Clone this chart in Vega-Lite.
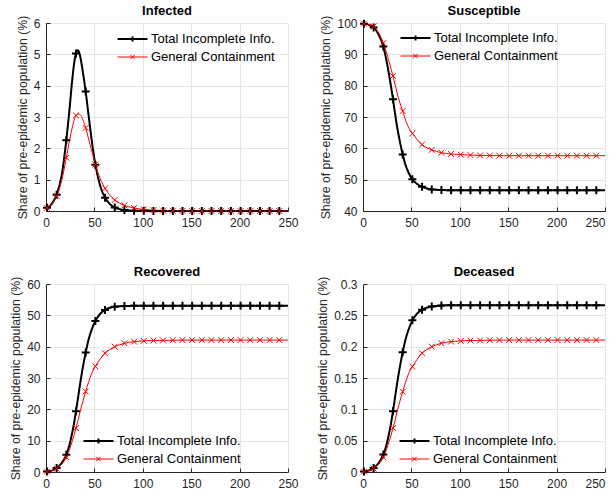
{
  "$schema": "https://vega.github.io/schema/vega-lite/v6.json",
  "background": "white",
  "padding": {"left": 9, "top": 5, "right": 5, "bottom": 5},
  "datasets": {
    "d": [
      {"p":"I","t":1,"TII":0.1,"GC":0.1},{"p":"I","t":6,"TII":0.23,"GC":0.22},{"p":"I","t":11,"TII":0.52,"GC":0.48},{"p":"I","t":16,"TII":1.1,"GC":0.95},{"p":"I","t":21,"TII":2.26,"GC":1.7},{"p":"I","t":24,"TII":3.15,"GC":2.2},{"p":"I","t":27,"TII":4.15,"GC":2.65},{"p":"I","t":29,"TII":4.7,"GC":2.9},{"p":"I","t":31,"TII":5.03,"GC":3.05},{"p":"I","t":33,"TII":5.13,"GC":3.1},{"p":"I","t":35,"TII":4.98,"GC":3.08},{"p":"I","t":38,"TII":4.45,"GC":2.92},{"p":"I","t":41,"TII":3.81,"GC":2.65},{"p":"I","t":44,"TII":3.05,"GC":2.3},{"p":"I","t":47,"TII":2.3,"GC":1.95},{"p":"I","t":51,"TII":1.48,"GC":1.48},{"p":"I","t":56,"TII":0.8,"GC":1.03},{"p":"I","t":61,"TII":0.42,"GC":0.72},{"p":"I","t":66,"TII":0.22,"GC":0.5},{"p":"I","t":71,"TII":0.11,"GC":0.35},{"p":"I","t":76,"TII":0.06,"GC":0.25},{"p":"I","t":81,"TII":0.03,"GC":0.18},{"p":"I","t":86,"TII":0.018,"GC":0.13},{"p":"I","t":91,"TII":0.01,"GC":0.095},{"p":"I","t":96,"TII":0.006,"GC":0.07},{"p":"I","t":101,"TII":0.004,"GC":0.05},{"p":"I","t":111,"TII":0.002,"GC":0.028},{"p":"I","t":121,"TII":0.001,"GC":0.015},{"p":"I","t":131,"TII":0,"GC":0.008},{"p":"I","t":141,"TII":0,"GC":0.004},{"p":"I","t":151,"TII":0,"GC":0.002},{"p":"I","t":161,"TII":0,"GC":0.001},{"p":"I","t":171,"TII":0,"GC":0},{"p":"I","t":181,"TII":0,"GC":0},{"p":"I","t":191,"TII":0,"GC":0},{"p":"I","t":201,"TII":0,"GC":0},{"p":"I","t":211,"TII":0,"GC":0},{"p":"I","t":221,"TII":0,"GC":0},{"p":"I","t":231,"TII":0,"GC":0},{"p":"I","t":241,"TII":0,"GC":0},{"p":"I","t":250,"TII":0,"GC":0},
      {"p":"S","t":1,"TII":99.8,"GC":99.8},{"p":"S","t":6,"TII":99.4,"GC":99.5},{"p":"S","t":11,"TII":98.6,"GC":98.9},{"p":"S","t":16,"TII":96.4,"GC":96.9},{"p":"S","t":21,"TII":92.5,"GC":93.6},{"p":"S","t":24,"TII":88.4,"GC":90.9},{"p":"S","t":27,"TII":83.4,"GC":87.5},{"p":"S","t":29,"TII":79.6,"GC":85.3},{"p":"S","t":31,"TII":75.7,"GC":83.1},{"p":"S","t":33,"TII":71.3,"GC":80.5},{"p":"S","t":35,"TII":67.3,"GC":78.0},{"p":"S","t":38,"TII":62.3,"GC":74.6},{"p":"S","t":41,"TII":58.0,"GC":71.9},{"p":"S","t":44,"TII":54.6,"GC":69.0},{"p":"S","t":47,"TII":52.3,"GC":66.8},{"p":"S","t":51,"TII":50.1,"GC":64.8},{"p":"S","t":56,"TII":48.6,"GC":62.8},{"p":"S","t":61,"TII":47.7,"GC":61.2},{"p":"S","t":66,"TII":47.2,"GC":60.2},{"p":"S","t":71,"TII":46.9,"GC":59.5},{"p":"S","t":76,"TII":46.75,"GC":59.0},{"p":"S","t":81,"TII":46.7,"GC":58.6},{"p":"S","t":86,"TII":46.65,"GC":58.35},{"p":"S","t":91,"TII":46.62,"GC":58.2},{"p":"S","t":96,"TII":46.6,"GC":58.1},{"p":"S","t":101,"TII":46.6,"GC":58.0},{"p":"S","t":111,"TII":46.6,"GC":57.85},{"p":"S","t":121,"TII":46.6,"GC":57.75},{"p":"S","t":131,"TII":46.6,"GC":57.7},{"p":"S","t":141,"TII":46.6,"GC":57.65},{"p":"S","t":151,"TII":46.6,"GC":57.65},{"p":"S","t":161,"TII":46.6,"GC":57.65},{"p":"S","t":171,"TII":46.6,"GC":57.65},{"p":"S","t":181,"TII":46.6,"GC":57.65},{"p":"S","t":191,"TII":46.6,"GC":57.65},{"p":"S","t":201,"TII":46.6,"GC":57.65},{"p":"S","t":211,"TII":46.6,"GC":57.65},{"p":"S","t":221,"TII":46.6,"GC":57.65},{"p":"S","t":231,"TII":46.6,"GC":57.65},{"p":"S","t":241,"TII":46.6,"GC":57.65},{"p":"S","t":250,"TII":46.6,"GC":57.65},
      {"p":"R","t":1,"TII":0.15,"GC":0.15},{"p":"R","t":6,"TII":0.45,"GC":0.42},{"p":"R","t":11,"TII":1.3,"GC":1.1},{"p":"R","t":16,"TII":2.8,"GC":2.4},{"p":"R","t":21,"TII":5.5,"GC":4.7},{"p":"R","t":24,"TII":8.4,"GC":6.9},{"p":"R","t":27,"TII":12.4,"GC":9.8},{"p":"R","t":29,"TII":15.6,"GC":11.8},{"p":"R","t":31,"TII":19.4,"GC":14.0},{"p":"R","t":33,"TII":23.5,"GC":16.4},{"p":"R","t":35,"TII":27.7,"GC":18.9},{"p":"R","t":38,"TII":33.3,"GC":22.5},{"p":"R","t":41,"TII":38.1,"GC":25.7},{"p":"R","t":44,"TII":42.3,"GC":28.7},{"p":"R","t":47,"TII":45.3,"GC":31.3},{"p":"R","t":51,"TII":48.2,"GC":33.7},{"p":"R","t":56,"TII":50.5,"GC":36.1},{"p":"R","t":61,"TII":51.7,"GC":37.9},{"p":"R","t":66,"TII":52.4,"GC":39.1},{"p":"R","t":71,"TII":52.75,"GC":40.0},{"p":"R","t":76,"TII":52.9,"GC":40.6},{"p":"R","t":81,"TII":53.0,"GC":41.1},{"p":"R","t":86,"TII":53.0,"GC":41.4},{"p":"R","t":91,"TII":53.05,"GC":41.6},{"p":"R","t":96,"TII":53.05,"GC":41.75},{"p":"R","t":101,"TII":53.05,"GC":41.85},{"p":"R","t":111,"TII":53.05,"GC":41.95},{"p":"R","t":121,"TII":53.05,"GC":42.0},{"p":"R","t":131,"TII":53.05,"GC":42.05},{"p":"R","t":141,"TII":53.05,"GC":42.1},{"p":"R","t":151,"TII":53.05,"GC":42.1},{"p":"R","t":161,"TII":53.05,"GC":42.1},{"p":"R","t":171,"TII":53.05,"GC":42.1},{"p":"R","t":181,"TII":53.05,"GC":42.1},{"p":"R","t":191,"TII":53.05,"GC":42.1},{"p":"R","t":201,"TII":53.05,"GC":42.1},{"p":"R","t":211,"TII":53.05,"GC":42.1},{"p":"R","t":221,"TII":53.05,"GC":42.1},{"p":"R","t":231,"TII":53.05,"GC":42.1},{"p":"R","t":241,"TII":53.05,"GC":42.1},{"p":"R","t":250,"TII":53.05,"GC":42.1},
      {"p":"D","t":1,"TII":0.0008,"GC":0.0008},{"p":"D","t":6,"TII":0.0023,"GC":0.0021},{"p":"D","t":11,"TII":0.0065,"GC":0.0055},{"p":"D","t":16,"TII":0.014,"GC":0.012},{"p":"D","t":21,"TII":0.028,"GC":0.0235},{"p":"D","t":24,"TII":0.042,"GC":0.0345},{"p":"D","t":27,"TII":0.062,"GC":0.049},{"p":"D","t":29,"TII":0.078,"GC":0.059},{"p":"D","t":31,"TII":0.097,"GC":0.07},{"p":"D","t":33,"TII":0.118,"GC":0.082},{"p":"D","t":35,"TII":0.139,"GC":0.0945},{"p":"D","t":38,"TII":0.167,"GC":0.1125},{"p":"D","t":41,"TII":0.191,"GC":0.128},{"p":"D","t":44,"TII":0.212,"GC":0.1435},{"p":"D","t":47,"TII":0.227,"GC":0.1565},{"p":"D","t":51,"TII":0.242,"GC":0.168},{"p":"D","t":56,"TII":0.253,"GC":0.18},{"p":"D","t":61,"TII":0.259,"GC":0.1895},{"p":"D","t":66,"TII":0.262,"GC":0.1955},{"p":"D","t":71,"TII":0.264,"GC":0.2},{"p":"D","t":76,"TII":0.265,"GC":0.203},{"p":"D","t":81,"TII":0.2655,"GC":0.2055},{"p":"D","t":86,"TII":0.266,"GC":0.207},{"p":"D","t":91,"TII":0.266,"GC":0.208},{"p":"D","t":96,"TII":0.266,"GC":0.2087},{"p":"D","t":101,"TII":0.266,"GC":0.2092},{"p":"D","t":111,"TII":0.266,"GC":0.2098},{"p":"D","t":121,"TII":0.266,"GC":0.21},{"p":"D","t":131,"TII":0.266,"GC":0.2103},{"p":"D","t":141,"TII":0.266,"GC":0.2105},{"p":"D","t":151,"TII":0.266,"GC":0.2105},{"p":"D","t":161,"TII":0.266,"GC":0.2105},{"p":"D","t":171,"TII":0.266,"GC":0.2105},{"p":"D","t":181,"TII":0.266,"GC":0.2105},{"p":"D","t":191,"TII":0.266,"GC":0.2105},{"p":"D","t":201,"TII":0.266,"GC":0.2105},{"p":"D","t":211,"TII":0.266,"GC":0.2105},{"p":"D","t":221,"TII":0.266,"GC":0.2105},{"p":"D","t":231,"TII":0.266,"GC":0.2105},{"p":"D","t":241,"TII":0.266,"GC":0.2105},{"p":"D","t":250,"TII":0.266,"GC":0.2105}
    ]
  },
  "columns": 2,
  "spacing": {"row": 38, "column": 17},
  "concat": [
    {
      "title": "Infected",
      "width": 242, "height": 188,
      "data": {"name": "d"},
      "transform": [{"filter": "datum.p == 'I'"}, {"fold": ["TII", "GC"], "as": ["s", "v"]}],
      "encoding": {
        "x": {"field": "t", "type": "quantitative", "scale": {"domain": [0, 250]}, "axis": {"values": [0, 50, 100, 150, 200, 250], "title": null}},
        "y": {"field": "v", "type": "quantitative", "scale": {"domain": [0, 6]}, "axis": {"values": [0, 1, 2, 3, 4, 5, 6], "title": "Share of pre-epidemic population (%)"}},
        "color": {"field": "s", "type": "nominal", "scale": {"domain": ["TII", "GC"], "range": ["#000000", "#ff0000"]},
          "legend": {"title": null, "orient": "none", "legendX": 80, "legendY": 9.5, "padding": 0, "symbolSize": 100, "labelOffset": 12, "rowPadding": 4, "labelFontSize": 13, "labelFont": "Liberation Sans", "labelColor": "#000000",
            "labelExpr": "datum.value == 'TII' ? 'Total Incomplete Info.' : 'General Containment'",
            "encode": {"symbols": {"update": {"shape": {"signal": "datum.value == 'TII' ? 'M-3,0H3M0,-0.5V0.5' : 'M-3,0H3M-0.45,-0.45L0.45,0.45M-0.45,0.45L0.45,-0.45'"}, "strokeWidth": {"signal": "datum.value == 'TII' ? 2 : 1"}, "fill": {"value": "transparent"}}}}}},
        "strokeWidth": {"field": "s", "type": "nominal", "scale": {"domain": ["TII", "GC"], "range": [2, 1]}, "legend": null}
      },
      "layer": [
        {"mark": {"type": "line", "interpolate": "monotone"}},
        {"transform": [{"filter": "(datum.t - 1) % 10 == 0"}], "mark": {"type": "point", "filled": false, "opacity": 1},
         "encoding": {"shape": {"field": "s", "type": "nominal", "scale": {"domain": ["TII", "GC"], "range": ["M-1,0H1M0,-1V1", "M-1,-1L1,1M-1,1L1,-1"]}, "legend": null},
                      "size": {"field": "s", "type": "nominal", "scale": {"domain": ["TII", "GC"], "range": [64, 34]}, "legend": null}}}
      ]
    },
    {
      "title": "Susceptible",
      "width": 242, "height": 188,
      "data": {"name": "d"},
      "transform": [{"filter": "datum.p == 'S'"}, {"fold": ["TII", "GC"], "as": ["s", "v"]}],
      "encoding": {
        "x": {"field": "t", "type": "quantitative", "scale": {"domain": [0, 250]}, "axis": {"values": [0, 50, 100, 150, 200, 250], "title": null, "labelAlign": {"condition": {"test": "datum.value == 250", "value": "right"}, "value": "center"}}},
        "y": {"field": "v", "type": "quantitative", "scale": {"domain": [40, 100]}, "axis": {"values": [40, 50, 60, 70, 80, 90, 100], "title": "Share of pre-epidemic population (%)"}},
        "color": {"field": "s", "type": "nominal", "scale": {"domain": ["TII", "GC"], "range": ["#000000", "#ff0000"]},
          "legend": {"title": null, "orient": "none", "legendX": 46, "legendY": 8.5, "padding": 0, "symbolSize": 100, "labelOffset": 12, "rowPadding": 4, "labelFontSize": 13, "labelFont": "Liberation Sans", "labelColor": "#000000",
            "labelExpr": "datum.value == 'TII' ? 'Total Incomplete Info.' : 'General Containment'",
            "encode": {"symbols": {"update": {"shape": {"signal": "datum.value == 'TII' ? 'M-3,0H3M0,-0.5V0.5' : 'M-3,0H3M-0.45,-0.45L0.45,0.45M-0.45,0.45L0.45,-0.45'"}, "strokeWidth": {"signal": "datum.value == 'TII' ? 2 : 1"}, "fill": {"value": "transparent"}}}}}},
        "strokeWidth": {"field": "s", "type": "nominal", "scale": {"domain": ["TII", "GC"], "range": [2, 1]}, "legend": null}
      },
      "layer": [
        {"mark": {"type": "line", "interpolate": "monotone"}},
        {"transform": [{"filter": "(datum.t - 1) % 10 == 0"}], "mark": {"type": "point", "filled": false, "opacity": 1},
         "encoding": {"shape": {"field": "s", "type": "nominal", "scale": {"domain": ["TII", "GC"], "range": ["M-1,0H1M0,-1V1", "M-1,-1L1,1M-1,1L1,-1"]}, "legend": null},
                      "size": {"field": "s", "type": "nominal", "scale": {"domain": ["TII", "GC"], "range": [64, 34]}, "legend": null}}}
      ]
    },
    {
      "title": "Recovered",
      "width": 242, "height": 188,
      "data": {"name": "d"},
      "transform": [{"filter": "datum.p == 'R'"}, {"fold": ["TII", "GC"], "as": ["s", "v"]}],
      "encoding": {
        "x": {"field": "t", "type": "quantitative", "scale": {"domain": [0, 250]}, "axis": {"values": [0, 50, 100, 150, 200, 250], "title": null}},
        "y": {"field": "v", "type": "quantitative", "scale": {"domain": [0, 60]}, "axis": {"values": [0, 10, 20, 30, 40, 50, 60], "title": "Share of pre-epidemic population (%)"}},
        "color": {"field": "s", "type": "nominal", "scale": {"domain": ["TII", "GC"], "range": ["#000000", "#ff0000"]},
          "legend": {"title": null, "orient": "none", "legendX": 46, "legendY": 150.5, "padding": 0, "symbolSize": 100, "labelOffset": 12, "rowPadding": 4, "labelFontSize": 13, "labelFont": "Liberation Sans", "labelColor": "#000000",
            "labelExpr": "datum.value == 'TII' ? 'Total Incomplete Info.' : 'General Containment'",
            "encode": {"symbols": {"update": {"shape": {"signal": "datum.value == 'TII' ? 'M-3,0H3M0,-0.5V0.5' : 'M-3,0H3M-0.45,-0.45L0.45,0.45M-0.45,0.45L0.45,-0.45'"}, "strokeWidth": {"signal": "datum.value == 'TII' ? 2 : 1"}, "fill": {"value": "transparent"}}}}}},
        "strokeWidth": {"field": "s", "type": "nominal", "scale": {"domain": ["TII", "GC"], "range": [2, 1]}, "legend": null}
      },
      "layer": [
        {"mark": {"type": "line", "interpolate": "monotone"}},
        {"transform": [{"filter": "(datum.t - 1) % 10 == 0"}], "mark": {"type": "point", "filled": false, "opacity": 1},
         "encoding": {"shape": {"field": "s", "type": "nominal", "scale": {"domain": ["TII", "GC"], "range": ["M-1,0H1M0,-1V1", "M-1,-1L1,1M-1,1L1,-1"]}, "legend": null},
                      "size": {"field": "s", "type": "nominal", "scale": {"domain": ["TII", "GC"], "range": [64, 34]}, "legend": null}}}
      ]
    },
    {
      "title": "Deceased",
      "width": 242, "height": 188,
      "data": {"name": "d"},
      "transform": [{"filter": "datum.p == 'D'"}, {"fold": ["TII", "GC"], "as": ["s", "v"]}],
      "encoding": {
        "x": {"field": "t", "type": "quantitative", "scale": {"domain": [0, 250]}, "axis": {"values": [0, 50, 100, 150, 200, 250], "title": null, "labelAlign": {"condition": {"test": "datum.value == 250", "value": "right"}, "value": "center"}}},
        "y": {"field": "v", "type": "quantitative", "scale": {"domain": [0, 0.3]}, "axis": {"values": [0, 0.05, 0.1, 0.15, 0.2, 0.25, 0.3], "format": ".2~f", "title": "Share of pre-epidemic population (%)"}},
        "color": {"field": "s", "type": "nominal", "scale": {"domain": ["TII", "GC"], "range": ["#000000", "#ff0000"]},
          "legend": {"title": null, "orient": "none", "legendX": 45, "legendY": 150.5, "padding": 0, "symbolSize": 100, "labelOffset": 12, "rowPadding": 4, "labelFontSize": 13, "labelFont": "Liberation Sans", "labelColor": "#000000",
            "labelExpr": "datum.value == 'TII' ? 'Total Incomplete Info.' : 'General Containment'",
            "encode": {"symbols": {"update": {"shape": {"signal": "datum.value == 'TII' ? 'M-3,0H3M0,-0.5V0.5' : 'M-3,0H3M-0.45,-0.45L0.45,0.45M-0.45,0.45L0.45,-0.45'"}, "strokeWidth": {"signal": "datum.value == 'TII' ? 2 : 1"}, "fill": {"value": "transparent"}}}}}},
        "strokeWidth": {"field": "s", "type": "nominal", "scale": {"domain": ["TII", "GC"], "range": [2, 1]}, "legend": null}
      },
      "layer": [
        {"mark": {"type": "line", "interpolate": "monotone"}},
        {"transform": [{"filter": "(datum.t - 1) % 10 == 0"}], "mark": {"type": "point", "filled": false, "opacity": 1},
         "encoding": {"shape": {"field": "s", "type": "nominal", "scale": {"domain": ["TII", "GC"], "range": ["M-1,0H1M0,-1V1", "M-1,-1L1,1M-1,1L1,-1"]}, "legend": null},
                      "size": {"field": "s", "type": "nominal", "scale": {"domain": ["TII", "GC"], "range": [64, 34]}, "legend": null}}}
      ]
    }
  ],
  "resolve": {"scale": {"color": "independent"}, "legend": {"color": "independent"}},
  "config": {
    "view": {"stroke": null},
    "font": "Liberation Sans",
    "axis": {"labelFont": "Liberation Sans", "labelFontSize": 12, "labelColor": "#262626", "labelFlush": false, "labelOverlap": false, "titleFont": "Liberation Sans", "titleFontSize": 12.3, "titleFontWeight": "normal", "titleColor": "#262626", "domainColor": "#262626", "tickColor": "#262626", "tickSize": -4, "labelPadding": 10, "gridColor": "#e5e5e5", "grid": true},
    "title": {"font": "Liberation Sans", "fontSize": 13, "fontWeight": "bold", "color": "#000000", "frame": "group", "offset": -3}
  }
}
